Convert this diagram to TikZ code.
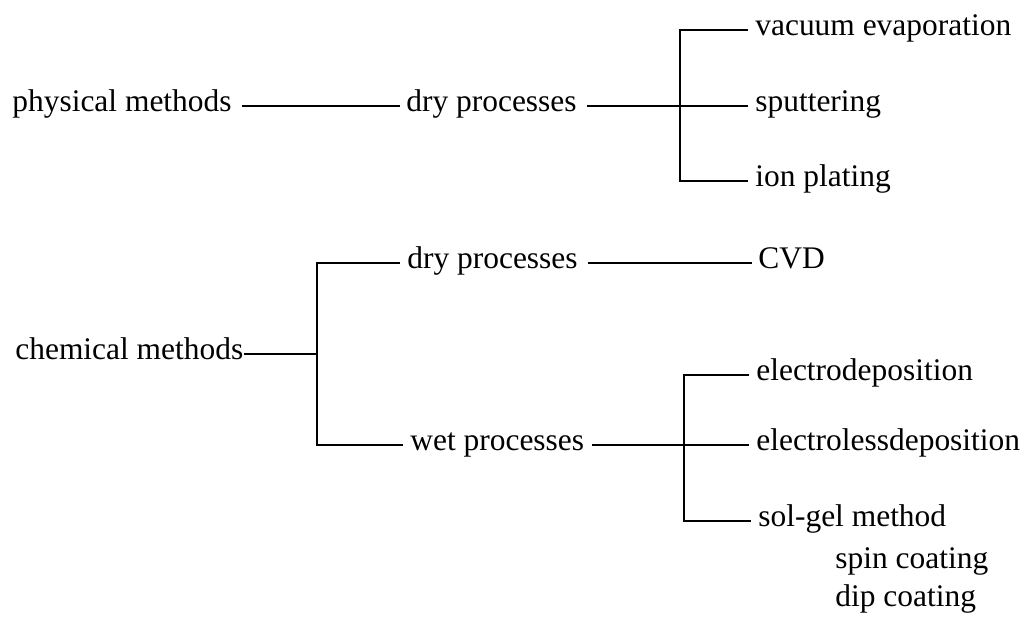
\documentclass[tikz,border=0pt]{standalone}
\usepackage{fontspec}
\setmainfont{Liberation Serif}
\usetikzlibrary{positioning}

\begin{document}
\begin{tikzpicture}[x=0.02cm, y=-0.02cm, every node/.style={font=\fontsize{17.9}{21}\selectfont},
  lbl/.style={anchor=west, inner xsep=0pt, inner ysep=0pt, text height=12pt, text depth=5.2pt},
  br/.style={line width=1.4pt}]
\useasboundingbox (0,0) rectangle (1029,621);
% Physical branch
\node[lbl] (phys) at (12,106) {physical methods};
\node[lbl] (dryA) at (406,106) {dry processes};
\coordinate (jA) at (680,106);
\node[lbl] (vac) at (755,30) {vacuum evaporation};
\node[lbl] (sput) at (755,106) {sputtering};
\node[lbl] (ion) at (755,181) {ion plating};
% Chemical branch
\node[lbl] (chem) at (15,354) {chemical methods};
\coordinate (jB) at (317,354);
\node[lbl] (dryB) at (407,263) {dry processes};
\node[lbl] (wet) at (410,445) {wet processes};
\node[lbl] (cvd) at (758,263) {CVD};
\coordinate (jC) at (684,445);
\node[lbl] (elec) at (756,375) {electrodeposition};
\node[lbl] (eless) at (756,445) {electrolessdeposition};
\node[lbl] (sol) at (758,521) {sol-gel method};
\node[lbl] (spin) at (835,563) {spin coating};
\node[lbl] (dip) at (835,601) {dip coating};
% Lines
\draw[br, shorten <=6pt, shorten >=3.4pt] (phys) -- (dryA);
\draw[br, shorten <=5.5pt, shorten >=3.8pt] (dryA) -- (sput);
\draw[br, shorten <=3.8pt, shorten >=3.8pt] (vac) -| (jA) |- (ion);
\draw[br] (chem) -- (jB);
\draw[br, shorten <=4pt, shorten >=4pt] (dryB) -| (jB) |- (wet);
\draw[br, shorten <=5.5pt, shorten >=3.4pt] (dryB) -- (cvd);
\draw[br, shorten <=4.5pt, shorten >=3.8pt] (wet) -- (eless);
\draw[br, shorten <=3.8pt, shorten >=3.8pt] (elec) -| (jC) |- (sol);
\end{tikzpicture}
\end{document}
